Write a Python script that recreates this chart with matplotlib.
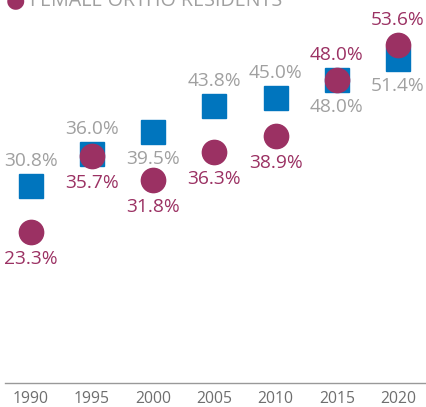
import matplotlib
matplotlib.use("Agg")
import matplotlib.pyplot as plt

years = [1990, 1995, 2000, 2005, 2010, 2015, 2020]
series_a = [30.8, 36.0, 39.5, 43.8, 45.0, 48.0, 51.4]   # blue squares
series_b = [23.3, 35.7, 31.8, 36.3, 38.9, 48.0, 53.6]   # purple circles (female ortho residents)
a_label_pos = ["above", "above", "below", "above", "above", "below", "below"]
b_label_pos = ["below", "below", "below", "below", "below", "above", "above"]
legend_label = "FEMALE ORTHO RESIDENTS"

BLUE = "#0075BE"
PURPLE = "#9B3163"
GRAY_LBL = "#A0A0A0"
TICK_GRAY = "#6E6E6E"

plt.rcParams['font.family'] = ['Open Sans', 'DejaVu Sans']

fig = plt.figure(figsize=(4.26, 4.07), dpi=100)
ax = fig.add_axes([5/426, 24/407, 420/426, 383/407])

ax.plot(years, series_a, linestyle='none', marker='s', ms=17.5, color=BLUE, zorder=3)
ax.plot(years, series_b, linestyle='none', marker='o', ms=17.5, color=PURPLE, zorder=4)

def lab(x, v, pos, color):
    off = 25 if pos == "above" else -27
    ax.annotate(f"{v:.1f}%", (x, v), xytext=(0, off), textcoords='offset pixels',
                ha='center', va='center', fontsize=13.8, color=color, zorder=5)

for x, v, p in zip(years, series_a, a_label_pos):
    lab(x, v, p, GRAY_LBL)
for x, v, p in zip(years, series_b, b_label_pos):
    lab(x, v, p, PURPLE)

ax.set_xlim(1987.9, 2022.2)
ax.set_ylim(-1.1, 60.9)
ax.set_xticks(years)
ax.set_xticklabels([str(y) for y in years])
ax.set_yticks([])
for s in ['top', 'right', 'left']:
    ax.spines[s].set_visible(False)
ax.spines['bottom'].set_color('#999999')
ax.spines['bottom'].set_linewidth(1.0)
ax.tick_params(axis='x', length=0, pad=6, labelsize=11.3, labelcolor=TICK_GRAY)
ax.patch.set_alpha(0)

# legend (partially cut at the top of the figure)
fig.text(15/426, 1 - 1/407, "●", color=PURPLE, fontsize=16, ha='center', va='center')
fig.text(30/426, 1 - 6/407, legend_label, color=GRAY_LBL, fontsize=14.2, ha='left', va='baseline')

fig.savefig("out.png", dpi=100)
